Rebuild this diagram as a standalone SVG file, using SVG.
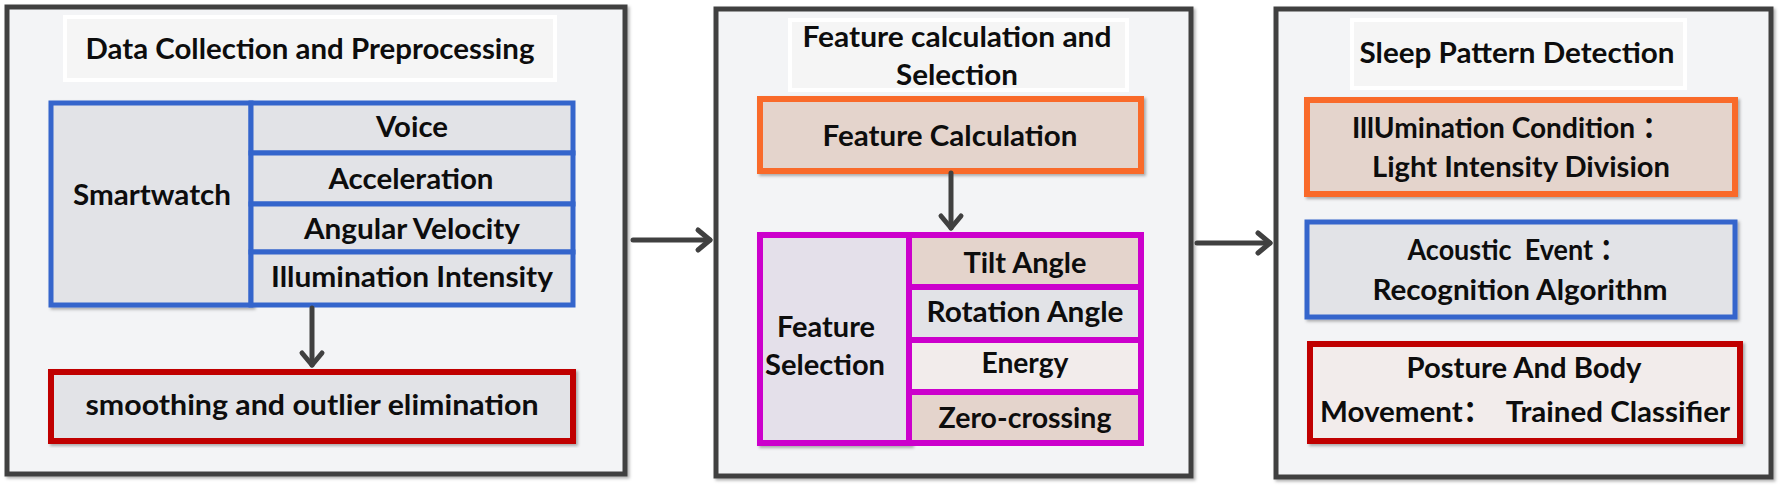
<svg xmlns="http://www.w3.org/2000/svg" width="1784" height="489" viewBox="0 0 1784 489">
<style>
.panel{fill:#f3f4f6;stroke:#404040;stroke-width:5}
.title{fill:#f5f5f5;stroke:#ffffff;stroke-width:4}
.blue{stroke:#3465cc;stroke-width:5}
.red{stroke:#c00000;stroke-width:6}
.orange{stroke:#f96b2b;stroke-width:6}
.mag{stroke:#cc00cc;stroke-width:6}
.gray{fill:#e2e3e7}
.brown{fill:#e4d4cc}
.pink{fill:#f2eceb}
.lav{fill:#e4e0ea}
.t{font-family:"Lato","Noto Sans CJK SC",sans-serif;font-weight:bold;font-size:29px;fill:#0d0d0d;text-anchor:middle;white-space:pre}
.conn{fill:none;stroke:#404040;stroke-width:5;stroke-linecap:round}
.sh{filter:url(#shadow)}
</style>
<defs>
<filter id="shadow" x="-5%" y="-5%" width="110%" height="115%">
<feDropShadow dx="2" dy="2" stdDeviation="1.5" flood-color="#000" flood-opacity="0.3"/>
</filter>
<marker id="chev" viewBox="-16 -14 20 28" markerWidth="20" markerHeight="28" refX="0" refY="0" orient="auto" markerUnits="userSpaceOnUse">
<path d="M-12,-10 L0,0 L-12,10" fill="none" stroke="#404040" stroke-width="5" stroke-linecap="round" stroke-linejoin="round"/>
</marker>
</defs>

<g id="panel-data">
<rect class="panel sh" x="7" y="7" width="618" height="467"/>
<rect class="title" x="65" y="17" width="490" height="63"/>
<text class="t" x="310" y="59" textLength="449" lengthAdjust="spacingAndGlyphs">Data Collection and Preprocessing</text>
</g>
<g id="node-smartwatch">
<rect class="blue gray sh" x="51" y="103" width="200" height="202"/>
<text class="t" x="152" y="205" textLength="158" lengthAdjust="spacingAndGlyphs">Smartwatch</text>
</g>
<g id="node-voice">
<rect class="blue gray" x="251" y="103" width="322" height="50"/>
<text class="t" x="412" y="137" textLength="72" lengthAdjust="spacingAndGlyphs">Voice</text>
</g>
<g id="node-acceleration">
<rect class="blue gray" x="251" y="153" width="322" height="51"/>
<text class="t" x="411" y="189" textLength="165" lengthAdjust="spacingAndGlyphs">Acceleration</text>
</g>
<g id="node-angular">
<rect class="blue gray" x="251" y="204" width="322" height="48"/>
<text class="t" x="412" y="239" textLength="216" lengthAdjust="spacingAndGlyphs">Angular Velocity</text>
</g>
<g id="node-illumination">
<rect class="blue gray" x="251" y="252" width="322" height="53"/>
<text class="t" x="412" y="287" textLength="282" lengthAdjust="spacingAndGlyphs">Illumination Intensity</text>
</g>
<g id="node-smoothing">
<rect class="red gray sh" x="51" y="372" width="522" height="69"/>
<text class="t" x="312" y="415" textLength="453" lengthAdjust="spacingAndGlyphs">smoothing and outlier elimination</text>
</g>

<g id="panel-feature">
<rect class="panel sh" x="716" y="9" width="475" height="467"/>
<rect class="title" x="790" y="20" width="337" height="70"/>
<text class="t" x="957" y="47" textLength="309" lengthAdjust="spacingAndGlyphs">Feature calculation and</text>
<text class="t" x="957" y="85" textLength="122" lengthAdjust="spacingAndGlyphs">Selection</text>
</g>
<g id="node-feature-calculation">
<rect class="orange brown sh" x="760" y="99" width="381" height="72"/>
<text class="t" x="950" y="146" textLength="255" lengthAdjust="spacingAndGlyphs">Feature Calculation</text>
</g>
<g id="node-feature-selection">
<rect class="mag lav sh" x="760" y="235" width="149" height="208"/>
<text class="t" x="826" y="337" textLength="98" lengthAdjust="spacingAndGlyphs">Feature</text>
<text class="t" x="825" y="375" textLength="120" lengthAdjust="spacingAndGlyphs">Selection</text>
</g>
<g id="node-tilt">
<rect class="mag brown" x="909" y="235" width="232" height="52"/>
<text class="t" x="1025" y="273" textLength="123" lengthAdjust="spacingAndGlyphs">Tilt Angle</text>
</g>
<g id="node-rotation">
<rect class="mag gray" x="909" y="287" width="232" height="53"/>
<text class="t" x="1025" y="322" textLength="197" lengthAdjust="spacingAndGlyphs">Rotation Angle</text>
</g>
<g id="node-energy">
<rect class="mag pink" x="909" y="340" width="232" height="52"/>
<text class="t" x="1025" y="373" textLength="87" lengthAdjust="spacingAndGlyphs">Energy</text>
</g>
<g id="node-zero">
<rect class="mag brown" x="909" y="392" width="232" height="51"/>
<text class="t" x="1025" y="428" textLength="173" lengthAdjust="spacingAndGlyphs">Zero-crossing</text>
</g>

<g id="panel-sleep">
<rect class="panel sh" x="1276" y="9" width="495" height="468"/>
<rect class="title" x="1352" y="20" width="333" height="68"/>
<text class="t" x="1517" y="63" textLength="315" lengthAdjust="spacingAndGlyphs">Sleep Pattern Detection</text>
</g>
<g id="node-illum-condition">
<rect class="orange brown sh" x="1307" y="100" width="428" height="94"/>
<text class="t" x="1511" y="138" textLength="318" lengthAdjust="spacingAndGlyphs">IllUmination Condition ：</text>
<text class="t" x="1521" y="177" textLength="298" lengthAdjust="spacingAndGlyphs">Light Intensity Division</text>
</g>
<g id="node-acoustic">
<rect class="blue gray sh" x="1307" y="222" width="428" height="95"/>
<text class="t" x="1517" y="260" textLength="219" lengthAdjust="spacingAndGlyphs">Acoustic  Event ：</text>
<text class="t" x="1520" y="300" textLength="295" lengthAdjust="spacingAndGlyphs">Recognition Algorithm</text>
</g>
<g id="node-posture">
<rect class="red pink sh" x="1310" y="344" width="430" height="97"/>
<text class="t" x="1524" y="378" textLength="235" lengthAdjust="spacingAndGlyphs">Posture And Body</text>
<text class="t" x="1525" y="422" textLength="410" lengthAdjust="spacingAndGlyphs">Movement：  Trained Classifier</text>
</g>

<g id="connectors">
<path class="conn" d="M312,308 L312,365" marker-end="url(#chev)"/>
<path class="conn" d="M951,173 L951,228" marker-end="url(#chev)"/>
<path class="conn" d="M633,240 L710,240" marker-end="url(#chev)"/>
<path class="conn" d="M1197,243 L1270,243" marker-end="url(#chev)"/>
</g>
</svg>
